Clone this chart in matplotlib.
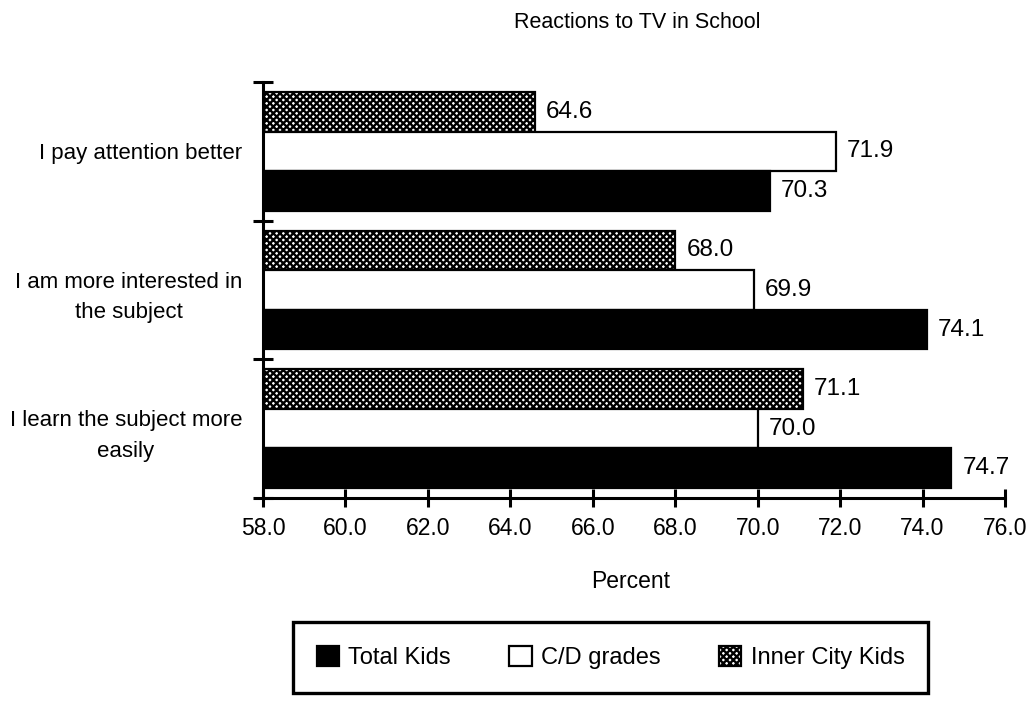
from matplotlib import pyplot as plt
from matplotlib.ticker import FixedLocator, FormatStrFormatter
import numpy as np

plt.rcParams['font.family'] = ['Liberation Sans', 'DejaVu Sans']
plt.rcParams['hatch.linewidth'] = 1.7

# data
categories = [
    "I pay attention better",
    "I am more interested in\nthe subject",
    "I learn the subject more\neasily",
]
total_kids = [70.3, 74.1, 74.7]
cd_grades = [71.9, 69.9, 70.0]
inner_city = [64.6, 68.0, 71.1]
x_ticks = [58, 60, 62, 64, 66, 68, 70, 72, 74, 76]

W, H = 1028, 702
fig = plt.figure(figsize=(W / 100, H / 100), dpi=100)
ax = fig.add_axes([263 / W, 1 - 498 / H, (1005 - 263) / W, (498 - 82) / H])

y = np.arange(len(categories))
h = 0.285

b_inner = ax.barh(y - h, inner_city, height=h, color='white', edgecolor='black',
                  linewidth=1.6, hatch='xxxxx', label='Inner City Kids')
b_cd = ax.barh(y, cd_grades, height=h, color='white', edgecolor='black',
               linewidth=1.6, label='C/D grades')
b_total = ax.barh(y + h, total_kids, height=h, color='black', edgecolor='black',
                  linewidth=1.6, label='Total Kids')

for bars in (b_inner, b_cd, b_total):
    ax.bar_label(bars, fmt='%.1f', padding=8, fontsize=17.5)

ax.set_xlim(58, 76)
ax.set_ylim(2.5, -0.5)

ax.xaxis.set_major_locator(FixedLocator(x_ticks))
ax.xaxis.set_major_formatter(FormatStrFormatter('%.1f'))
ax.tick_params(axis='x', direction='inout', length=13, width=2.2, pad=7, labelsize=16.5)

ax.set_yticks(y)
ax.set_yticklabels(categories)
ax.set_yticks([-0.5, 0.5, 1.5, 2.5], minor=True)
ax.tick_params(axis='y', which='major', length=0, pad=15, labelsize=16)
ax.tick_params(axis='y', which='minor', direction='inout', length=14, width=2.2)
for lbl in ax.get_yticklabels():
    lbl.set_multialignment('center')
    lbl.set_linespacing(1.6)

for side in ('top', 'right'):
    ax.spines[side].set_visible(False)
for side in ('left', 'bottom'):
    ax.spines[side].set_linewidth(2.2)

fig.text(637 / W, 1 - 22 / H, "Reactions to TV in School", ha='center', va='center',
         fontsize=15.5)
fig.text(631 / W, 1 - 581 / H, "Percent", ha='center', va='center', fontsize=16.5)

leg = fig.legend(handles=[b_total, b_cd, b_inner],
                 labels=['Total Kids', 'C/D grades', 'Inner City Kids'],
                 loc='center', ncol=3, mode='expand',
                 bbox_to_anchor=(293 / W, 1 - 697 / H, 635 / W, 79 / H),
                 borderaxespad=0, borderpad=1.0, handlelength=0.95, handleheight=0.95,
                 handletextpad=0.4, fontsize=17, fancybox=False, framealpha=1)
leg.get_frame().set_edgecolor('black')
leg.get_frame().set_linewidth(2.4)

fig.savefig('out.png', dpi=100)
